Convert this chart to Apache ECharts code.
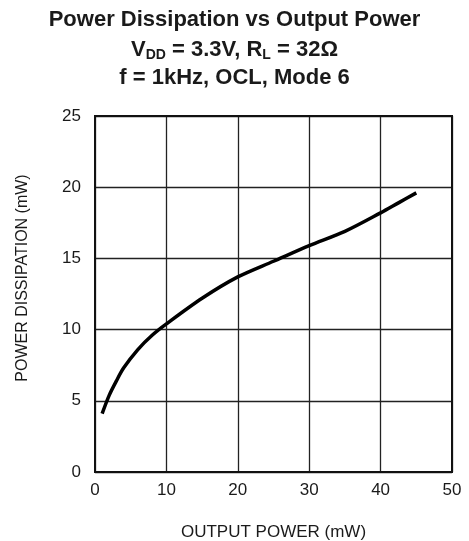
<!DOCTYPE html>
<html><head><meta charset="utf-8">
<script src="https://cdn.jsdelivr.net/npm/echarts@6/dist/echarts.min.js"></script>
<style>html,body{margin:0;padding:0;background:#fff}#c{width:469px;height:541px}</style>
</head><body><div id="c"></div>
<script>
const outputPower = [1, 2, 3, 4, 6, 8, 10, 15, 20, 25, 30, 35, 40, 42.5, 45];
const powerDissipation = [4.1, 5.4, 6.4, 7.3, 8.6, 9.6, 10.4, 12.2, 13.7, 14.8, 15.9, 16.9, 18.2, 18.9, 19.6];
const xTicks = [0, 10, 20, 30, 40, 50];
const yTicks = [0, 5, 10, 15, 20, 25];

const chart = echarts.init(document.getElementById('c'), null, {renderer: 'canvas'});
const F = '"Liberation Sans", Arial, sans-serif';
const tstyle = {fontFamily: F, fontWeight: 'bold', fontSize: 22, color: '#1a1a1a'};
chart.setOption({
  animation: false,
  title: [
    {text: 'Power Dissipation vs Output Power', left: 'center', top: 4, textStyle: tstyle},
    {text: 'V{s|DD} = 3.3V, R{s|L} = 32Ω', left: 'center', top: 33,
     textStyle: Object.assign({}, tstyle, {rich: {s: {fontFamily: F, fontWeight: 'bold', fontSize: 14, color: '#1a1a1a', padding: [10, 0, 0, 0]}}})},
    {text: 'f = 1kHz, OCL, Mode 6', left: 'center', top: 62, textStyle: tstyle}
  ],
  grid: {left: 95, right: 17, top: 116, bottom: 69, containLabel: false, outerBoundsMode: 'none'},
  xAxis: {
    type: 'value', min: 0, max: 50, interval: 10,
    name: 'OUTPUT POWER (mW)', nameLocation: 'middle', nameGap: 52,
    nameTextStyle: {fontFamily: F, fontSize: 17, color: '#1a1a1a'},
    axisLine: {show: true, lineStyle: {color: '#111', width: 2}},
    axisTick: {show: false},
    axisLabel: {fontFamily: F, fontSize: 17, color: '#1a1a1a', margin: 10,
      formatter: v => xTicks.includes(v) ? String(v) : ''},
    splitLine: {show: true, lineStyle: {color: '#222', width: 1.3}}
  },
  yAxis: {
    type: 'value', min: 0, max: 25, interval: 5,
    name: 'POWER DISSIPATION (mW)', nameLocation: 'middle', nameGap: 64, nameRotate: 90,
    nameTextStyle: {fontFamily: F, fontSize: 16, color: '#1a1a1a', padding: [0, 0, 0, 32]},
    axisLine: {show: true, lineStyle: {color: '#111', width: 2}},
    axisTick: {show: false},
    axisLabel: {fontFamily: F, fontSize: 17, color: '#1a1a1a', margin: 14,
      formatter: v => yTicks.includes(v) ? String(v) : ''},
    splitLine: {show: true, lineStyle: {color: '#222', width: 1.3}}
  },
  series: [{
    type: 'line', smooth: 0.3, showSymbol: false,
    data: outputPower.map((x, i) => [x, powerDissipation[i]]),
    lineStyle: {color: '#000', width: 3.5}
  }],
  graphic: [{
    type: 'rect', shape: {x: 95, y: 116, width: 357, height: 356},
    style: {fill: 'none', stroke: '#111', lineWidth: 2}, silent: true, z: 10
  }]
});
</script></body></html>
